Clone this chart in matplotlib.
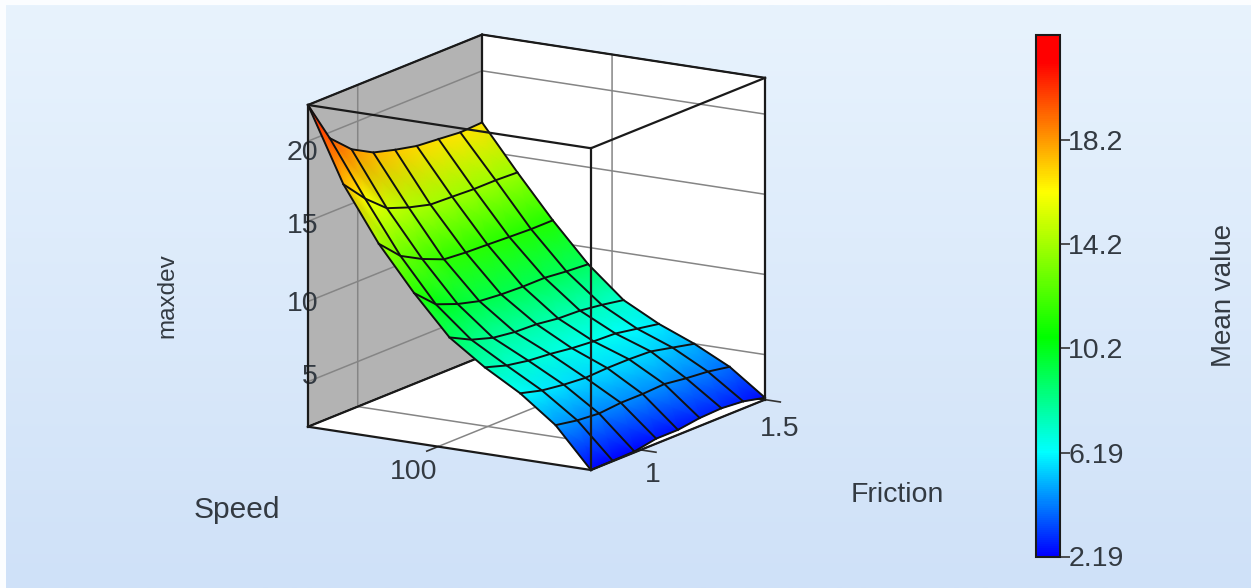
import numpy as np
import matplotlib
matplotlib.use('Agg')
import matplotlib.pyplot as plt
from matplotlib.colors import LinearSegmentedColormap, Normalize
from matplotlib.cm import ScalarMappable
from mpl_toolkits.mplot3d import proj3d

friction = [0.8, 0.8875, 0.975, 1.0625, 1.15, 1.2375, 1.325, 1.4125, 1.5]
speed = [20, 38.5, 57, 75.5, 94, 112.5, 131, 149.5, 168]
# one row per speed, one column per friction
maxdev_s20 = [2.19, 2.22, 2.25, 2.50, 2.50, 2.69, 2.75, 2.63, 2.31]
maxdev_s39 = [4.65, 4.40, 4.28, 4.40, 4.40, 4.47, 4.28, 4.15, 3.90]
maxdev_s57 = [6.30, 5.93, 5.74, 5.62, 5.68, 5.68, 5.62, 5.31, 5.00]
maxdev_s76 = [7.58, 7.15, 6.90, 6.77, 6.58, 6.46, 6.40, 6.15, 5.90]
maxdev_s94 = [9.11, 8.42, 7.99, 7.80, 7.74, 7.55, 7.49, 7.30, 7.05]
maxdev_s113 = [11.54, 10.29, 9.76, 9.39, 9.26, 9.20, 9.20, 9.05, 8.95]
maxdev_s131 = [14.28, 12.97, 12.23, 11.66, 11.54, 11.48, 11.41, 11.35, 11.35]
maxdev_s150 = [17.65, 16.21, 15.06, 14.56, 14.19, 14.13, 14.06, 14.06, 14.00]
maxdev_s168 = [22.26, 19.64, 18.40, 17.65, 17.27, 16.96, 16.84, 16.71, 16.78]

friction_ticks = [1, 1.5]
speed_ticks = [100]
maxdev_ticks = [5, 10, 15, 20]
cbar_ticks = [2.19, 6.19, 10.2, 14.2, 18.2]
cbar_labels = ['2.19', '6.19', '10.2', '14.2', '18.2']
vmin, vmax = 2.19, 22.26

W, H = 1251, 588
plt.rcParams['font.family'] = ['Liberation Sans', 'DejaVu Sans']
plt.rcParams['grid.color'] = '#858585'
plt.rcParams['grid.linewidth'] = 1.1
text_color = '#333a42'
fs = 20.5

cmap = LinearSegmentedColormap.from_list('rainbowish', [
    (0.0, '#0000ff'), (0.2, '#00ffff'), (0.42, '#00ff00'),
    (0.7, '#ffff00'), (0.95, '#ff0000'), (1.0, '#ff0000')])
norm = Normalize(vmin, vmax)

Z = np.array([maxdev_s20, maxdev_s39, maxdev_s57, maxdev_s76, maxdev_s94,
              maxdev_s113, maxdev_s131, maxdev_s150, maxdev_s168])
X, Y = np.meshgrid(friction, speed)

fig = plt.figure(figsize=(W / 100, H / 100), dpi=100, facecolor='#fbfdff')

# background gradient, starts a few pixels in from the left and top
bg = fig.add_axes([6 / W, 0, 1 - 6 / W, 1 - 5 / H], zorder=0)
bg.imshow(np.linspace(0, 1, 256)[:, None],
          cmap=LinearSegmentedColormap.from_list('bg', ['#e8f3fd', '#cfe1f8']),
          aspect='auto')
bg.axis('off')

# box with panes and grid
ax = fig.add_axes([0.2, 0.1, 0.6, 0.6 * W / H], projection='3d', zorder=1)
ax.set_proj_type('ortho')
ax.view_init(elev=14.4, azim=-148.4)
ax.set_box_aspect((1, 1, 1))
ax.set_xlim(friction[0], friction[-1])
ax.set_ylim(speed[0], speed[-1])
ax.set_zlim(vmin, vmax)
ax.set_xticks(friction_ticks)
ax.set_yticks(speed_ticks)
ax.set_zticks(maxdev_ticks)
ax.set_xticklabels([])
ax.set_yticklabels([])
ax.set_zticklabels([])
ax.tick_params(length=0, width=0)
ax.patch.set_alpha(0)
ax.xaxis.set_pane_color((1, 1, 1, 1))
ax.yaxis.set_pane_color((0.70, 0.70, 0.70, 1))
ax.zaxis.set_pane_color((1, 1, 1, 1))
for a in (ax.xaxis, ax.yaxis, ax.zaxis):
    a.line.set_color((0, 0, 0, 0))
    a.pane.set_edgecolor((0, 0, 0, 0))
    a._axinfo['tick']['inward_factor'] = 0
    a._axinfo['tick']['outward_factor'] = 0


def to_px(x, y, z):
    # data -> pixels from top left of the figure
    shape = np.shape(x)
    u, v, _ = proj3d.proj_transform(np.ravel(x).astype(float), np.ravel(y).astype(float),
                                    np.ravel(z).astype(float), ax.get_proj())
    p = ax.transData.transform(np.column_stack([u, v]))
    return p[:, 0].reshape(shape), H - p[:, 1].reshape(shape)


x0, x1 = friction[0], friction[-1]
y0, y1 = speed[0], speed[-1]
z0, z1 = vmin, vmax

# move the axes so the cube lands where it is in the picture
for step in range(3):
    fig.canvas.draw()
    px, py = to_px([x0, x1, x0, x1], [y1, y0, y0, y1], [z1, z0, z0, z1])
    span = px[1] - px[0]
    pos = ax.get_position()
    size = pos.width * W * (765 - 308) / span
    ax.set_position([pos.x0, pos.y0, size / W, size / H])
    fig.canvas.draw()
    px, py = to_px([x0, x1, x0, x1], [y1, y0, y0, y1], [z1, z0, z0, z1])
    pos = ax.get_position()
    ax.set_position([pos.x0 + (308 - px[0]) / W, pos.y0 - (470 - py[2]) / H,
                     pos.width, pos.height])
fig.canvas.draw()


def edge(target, p, q, lw=1.6):
    ex, ey, ez = zip(p, q)
    if target is ax:
        ax.plot(ex, ey, ez, color='#1a1a1a', lw=lw, zorder=5)
    else:
        sx, sy = to_px(list(ex), list(ey), list(ez))
        target.plot(sx, sy, color='#1a1a1a', lw=lw, zorder=5)


# overlay in pixels, carries the surface and everything in front of it
ov = fig.add_axes([0, 0, 1, 1], zorder=2)
ov.set_xlim(0, W)
ov.set_ylim(H, 0)
ov.axis('off')

# back edges stay behind the surface
edge(ax, (x1, y1, z0), (x1, y1, z1))
edge(ax, (x0, y1, z1), (x1, y1, z1))
edge(ax, (x1, y1, z1), (x1, y0, z1))
edge(ax, (x0, y1, z0), (x1, y1, z0))
edge(ax, (x1, y1, z0), (x1, y0, z0))

SX, SY = to_px(X, Y, Z)
ov.pcolormesh(SX, SY, Z, shading='gouraud', cmap=cmap, norm=norm, zorder=2)
for i in range(Z.shape[0]):
    ov.plot(SX[i], SY[i], color='#111111', lw=1.4, zorder=3)
for j in range(Z.shape[1]):
    ov.plot(SX[:, j], SY[:, j], color='#111111', lw=1.4, zorder=3)

# front edges
edge(ov, (x0, y1, z0), (x0, y1, z1))
edge(ov, (x1, y0, z0), (x1, y0, z1))
edge(ov, (x0, y0, z0), (x0, y0, z1))
edge(ov, (x0, y1, z1), (x0, y0, z1))
edge(ov, (x0, y0, z1), (x1, y0, z1))
edge(ov, (x0, y0, z0), (x0, y1, z0))
edge(ov, (x0, y0, z0), (x1, y0, z0))

# tick marks stick out of the floor, labels beside them
for f in friction_ticks:
    sx, sy = to_px([f, f], [y0, y0 - 8], [z0, z0])
    ov.plot(sx, sy, color='#333333', lw=1.2, zorder=4)
sx, sy = to_px([1], [y0], [z0])
ov.annotate('1', (sx[0], sy[0]), xytext=(12, -25), textcoords='offset pixels',
            ha='center', va='center', fontsize=fs, color=text_color)
sx, sy = to_px([1.5], [y0], [z0])
ov.annotate('1.5', (sx[0], sy[0]), xytext=(15, -29), textcoords='offset pixels',
            ha='center', va='center', fontsize=fs, color=text_color)
for s in speed_ticks:
    sx, sy = to_px([x0, x0 - 0.045], [s, s], [z0, z0])
    ov.plot(sx, sy, color='#333333', lw=1.2, zorder=4)
    ov.annotate(str(s), (sx[1], sy[1]), xytext=(-13, -21), textcoords='offset pixels',
                ha='center', va='center', fontsize=fs, color=text_color)
# the labels drift off their grid lines in the reference
z_label_shift = [5, -2, -5, -12]
for z, dy in zip(maxdev_ticks, z_label_shift):
    sx, sy = to_px([x0], [y1], [z])
    ov.annotate(str(z), (sx[0], sy[0]), xytext=(10, dy), textcoords='offset pixels',
                ha='right', va='center', fontsize=fs, color=text_color)

ov.text(167, 296, 'maxdev', rotation=90, ha='center', va='center', fontsize=17.5, color=text_color)
ov.text(237, 510, 'Speed', ha='center', va='center', fontsize=fs + 1, color=text_color)
ov.text(897, 495, 'Friction', ha='center', va='center', fontsize=fs, color=text_color)
ov.text(1224, 295, 'Mean value', rotation=90, ha='center', va='center', fontsize=20, color=text_color)

# colour bar
cax = fig.add_axes([1036 / W, 1 - 556.5 / H, 24 / W, 521.5 / H], zorder=3)
cb = fig.colorbar(ScalarMappable(norm=norm, cmap=cmap), cax=cax)
cb.set_ticks(cbar_ticks)
cb.set_ticklabels(cbar_labels)
cb.minorticks_off()
cb.outline.set_edgecolor('#1a1a1a')
cb.outline.set_linewidth(1.5)
cax.tick_params(length=7, width=1.2, color='#333333', labelsize=fs, labelcolor=text_color, pad=-1)

fig.savefig('out.png', dpi=100)
